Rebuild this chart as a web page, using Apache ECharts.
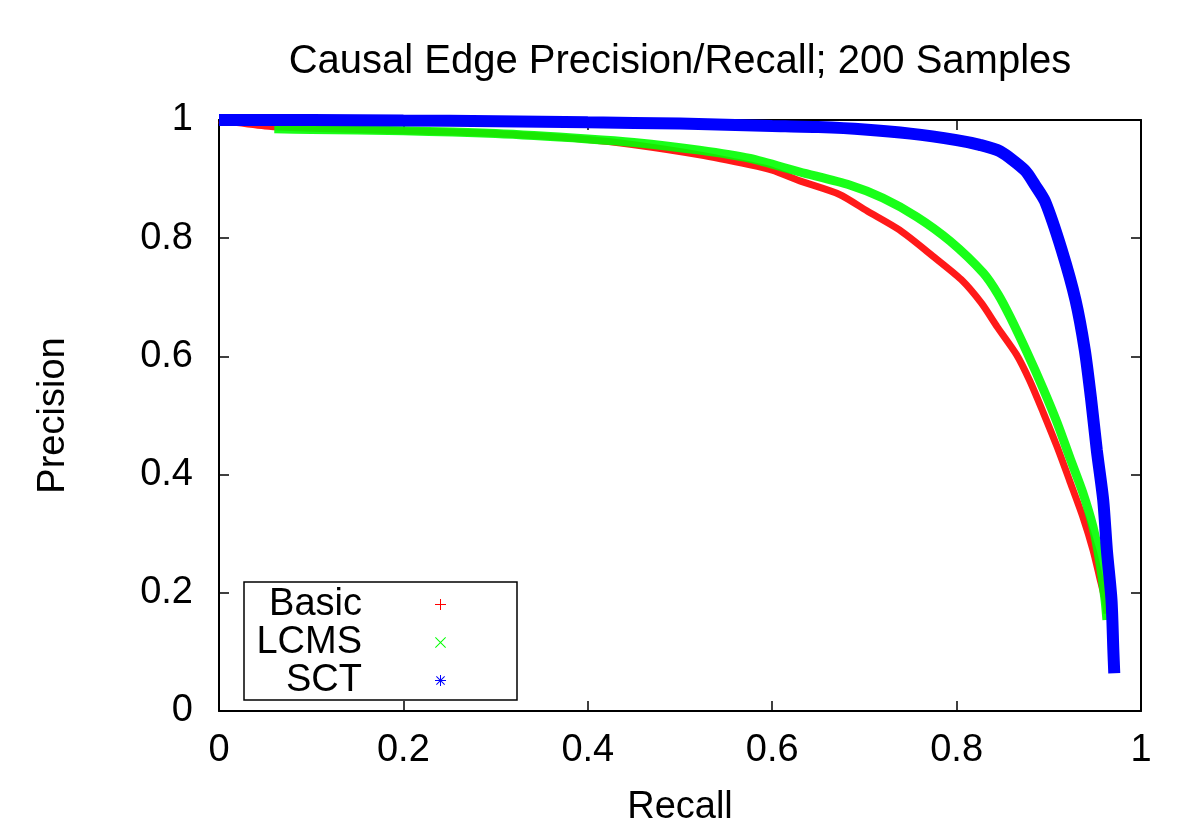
<!DOCTYPE html>
<html><head><meta charset="utf-8">
<script src="https://cdn.jsdelivr.net/npm/echarts@6/dist/echarts.min.js"></script>
<style>html,body{margin:0;padding:0;background:#fff}#c{width:1200px;height:840px}</style>
</head><body><div id="c"></div>
<script>
const titleText = 'Causal Edge Precision/Recall; 200 Samples';
const xName = 'Recall';
const yName = 'Precision';
const seriesNames = ['Basic', 'LCMS', 'SCT'];
const xTickLabels = ['0', '0.2', '0.4', '0.6', '0.8', '1'];
const yTickLabels = ['0', '0.2', '0.4', '0.6', '0.8', '1'];

const basicRecall    = [0, 0.05, 0.1, 0.2, 0.3, 0.4, 0.45, 0.521, 0.576, 0.6, 0.63, 0.673, 0.703, 0.738, 0.774, 0.805, 0.827, 0.844, 0.865, 0.879, 0.894, 0.909, 0.923, 0.937, 0.948, 0.955, 0.961, 0.963];
const basicPrecision = [1.0, 0.99, 0.986, 0.982, 0.977, 0.967, 0.958, 0.941, 0.924, 0.915, 0.897, 0.874, 0.846, 0.814, 0.77, 0.73, 0.69, 0.65, 0.603, 0.56, 0.505, 0.447, 0.388, 0.328, 0.272, 0.227, 0.188, 0.165];

const lcmsRecall    = [0.06, 0.1, 0.2, 0.3, 0.4, 0.45, 0.521, 0.576, 0.63, 0.684, 0.72, 0.757, 0.793, 0.829, 0.845, 0.858, 0.876, 0.894, 0.909, 0.923, 0.937, 0.948, 0.955, 0.961, 0.963];
const lcmsPrecision = [0.985, 0.984, 0.982, 0.977, 0.968, 0.962, 0.949, 0.935, 0.912, 0.89, 0.868, 0.836, 0.795, 0.741, 0.705, 0.667, 0.608, 0.545, 0.488, 0.428, 0.369, 0.311, 0.255, 0.188, 0.154];

const sctRecall    = [0, 0.1, 0.2, 0.3, 0.4, 0.5, 0.6, 0.65, 0.7, 0.75, 0.8, 0.825, 0.847, 0.874, 0.885, 0.896, 0.914, 0.929, 0.939, 0.946, 0.952, 0.959, 0.963, 0.968, 0.970, 0.971];
const sctPrecision = [1.0, 1.0, 0.999, 0.998, 0.996, 0.994, 0.99, 0.988, 0.984, 0.977, 0.966, 0.958, 0.947, 0.915, 0.89, 0.862, 0.78, 0.695, 0.611, 0.526, 0.442, 0.357, 0.272, 0.188, 0.103, 0.064];

const seriesColors = ['#ff0000', '#00ff00', '#0000ff'];
const font = 'Liberation Sans';

function pairs(xs, ys) { return xs.map((x, i) => [x, ys[i]]); }

const plusIcon = 'path://M5,0H6V11H5ZM0,5H11V6H0Z';
const crossIcon = 'path://M0,0.7L0.7,0L11,10.3L10.3,11ZM10.3,0L11,0.7L0.7,11L0,10.3Z';
const starIcon = 'path://M5,0H6V11H5ZM0,5H11V6H0ZM1,1.7L1.7,1L10,9.3L9.3,10ZM9.3,1L10,1.7L1.7,10L1,9.3Z';

const chart = echarts.init(document.getElementById('c'), null, {renderer: 'canvas'});

const axisCommon = {
  type: 'value', min: 0, max: 1, interval: 0.2,
  axisLine: {show: true, onZero: false, lineStyle: {color: '#000', width: 2}},
  axisTick: {show: true, inside: true, length: 10, lineStyle: {color: '#000', width: 1.5}},
  splitLine: {show: false}
};

const option = {
  backgroundColor: '#fff',
  animation: false,
  title: {
    text: titleText, left: 680, top: 42, padding: 0, textAlign: 'center',
    textStyle: {fontFamily: font, fontSize: 40, fontWeight: 'normal', color: '#000', lineHeight: 40}
  },
  grid: {left: 219, right: 59, top: 120, bottom: 129, containLabel: false},
  xAxis: [
    Object.assign({}, axisCommon, {
      position: 'bottom', name: xName, nameLocation: 'middle', nameGap: 78,
      nameTextStyle: {fontFamily: font, fontSize: 38, color: '#000', lineHeight: 38},
      axisLabel: {margin: 21, fontFamily: font, fontSize: 38, color: '#000', lineHeight: 38,
        formatter: v => xTickLabels[Math.round(v / 0.2)]}
    }),
    Object.assign({}, axisCommon, {position: 'top', axisLabel: {show: false}})
  ],
  yAxis: [
    Object.assign({}, axisCommon, {
      position: 'left', name: yName, nameLocation: 'middle', nameGap: 146, nameRotate: 90,
      nameTextStyle: {fontFamily: font, fontSize: 38, color: '#000', lineHeight: 38},
      axisLabel: {margin: 26, fontFamily: font, fontSize: 38, color: '#000',
        formatter: v => yTickLabels[Math.round(v / 0.2)]}
    }),
    Object.assign({}, axisCommon, {position: 'right', axisLabel: {show: false}})
  ],
  legend: {
    orient: 'vertical', left: 244, top: 582, align: 'right',
    backgroundColor: '#fff',
    borderColor: '#000', borderWidth: 1.5, borderRadius: 0,
    padding: [3.5, 71, 0.5, 8],
    itemGap: 0, itemWidth: 11, itemHeight: 11,
    textStyle: {fontFamily: font, fontSize: 38, color: '#000', lineHeight: 38, width: 110, padding: [0, 68, 0, 0]},
    data: [
      {name: seriesNames[0], icon: plusIcon},
      {name: seriesNames[1], icon: crossIcon},
      {name: seriesNames[2], icon: starIcon}
    ],
    selectedMode: false
  },
  series: [
    {name: seriesNames[0], type: 'line', data: pairs(basicRecall, basicPrecision), showSymbol: false, symbol: 'none',
     smooth: 0.25, clip: false, color: seriesColors[0], itemStyle: {color: seriesColors[0]},
     lineStyle: {color: seriesColors[0], width: 7, opacity: 0.9}, z: 2},
    {name: seriesNames[1], type: 'line', data: pairs(lcmsRecall, lcmsPrecision), showSymbol: false, symbol: 'none',
     smooth: 0.25, clip: false, color: seriesColors[1], itemStyle: {color: seriesColors[1]},
     lineStyle: {color: seriesColors[1], width: 9, opacity: 0.9}, z: 3},
    {name: seriesNames[2], type: 'line', data: pairs(sctRecall, sctPrecision), showSymbol: false, symbol: 'none',
     smooth: 0.25, clip: false, color: seriesColors[2], itemStyle: {color: seriesColors[2]},
     lineStyle: {color: seriesColors[2], width: 12}, z: 4}
  ]
};
chart.setOption(option);
</script>
</body></html>
